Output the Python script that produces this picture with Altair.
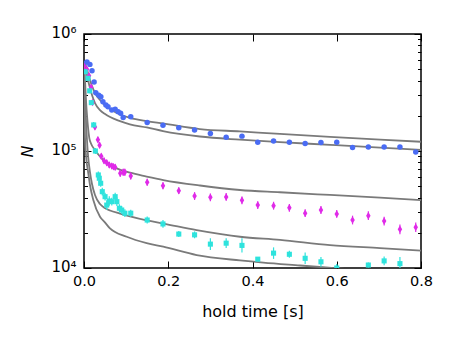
import altair as alt
import pandas as pd

# ---------------- data ----------------
x_ticks = [0.0, 0.2, 0.4, 0.6, 0.8]
y_major = [1e4, 1e5, 1e6]
y_minor = [2e4, 3e4, 4e4, 5e4, 6e4, 7e4, 8e4, 9e4,
           2e5, 3e5, 4e5, 5e5, 6e5, 7e5, 8e5, 9e5]

blue_t = [0.0, 0.007, 0.014, 0.019, 0.024, 0.028, 0.035, 0.04, 0.045, 0.052,
          0.057, 0.066, 0.074, 0.081, 0.087, 0.093, 0.111,
          0.15, 0.1875, 0.225, 0.2625, 0.3, 0.3375, 0.375, 0.4125, 0.45,
          0.4875, 0.525, 0.5625, 0.6, 0.6375, 0.675, 0.7125, 0.75, 0.7875]
blue_n = [5.6e5, 5.76e5, 5.5e5, 4.85e5, 3.89e5, 3.15e5, 3.0e5, 2.91e5, 2.64e5, 2.47e5,
          2.39e5, 2.24e5, 2.28e5, 2.17e5, 2.10e5, 1.93e5, 1.96e5,
          1.75e5, 1.66e5, 1.58e5, 1.51e5, 1.41e5, 1.31e5, 1.34e5, 1.19e5, 1.22e5,
          1.19e5, 1.16e5, 1.18e5, 1.19e5, 1.07e5, 1.08e5, 1.08e5, 1.08e5, 9.8e4]

mag_t = [0.0, 0.007, 0.012, 0.017, 0.02, 0.026, 0.033, 0.037, 0.041, 0.0475,
         0.054, 0.06, 0.066, 0.07, 0.074, 0.086, 0.093, 0.097, 0.111,
         0.15, 0.1875, 0.225, 0.2625, 0.3, 0.3375, 0.375, 0.4125, 0.45,
         0.4875, 0.525, 0.5625, 0.6, 0.6375, 0.675, 0.7125, 0.75, 0.7875]
mag_n = [5.3e5, 5.0e5, 4.4e5, 3.5e5, 2.6e5, 1.6e5, 1.25e5, 1.12e5, 9.0e4, 8.26e4,
         7.94e4, 7.59e4, 7.44e4, 7.35e4, 7.26e4, 6.45e4, 6.58e4, 6.58e4, 6.11e4,
         5.40e4, 5.05e4, 4.58e4, 4.12e4, 4.02e4, 4.05e4, 3.79e4, 3.45e4, 3.41e4,
         3.27e4, 2.94e4, 3.13e4, 2.90e4, 2.57e4, 2.80e4, 2.52e4, 2.14e4, 2.23e4]
mag_err = [0.04, 0.04, 0.04, 0.05, 0.05, 0.05, 0.06, 0.06, 0.06, 0.06,
           0.06, 0.06, 0.06, 0.06, 0.06, 0.07, 0.07, 0.07, 0.07,
           0.07, 0.07, 0.07, 0.08, 0.08, 0.08, 0.08, 0.08, 0.08,
           0.08, 0.08, 0.08, 0.08, 0.09, 0.09, 0.09, 0.10, 0.10]

cyan_t = [0.003, 0.0095, 0.0135, 0.0173, 0.023, 0.027, 0.034, 0.0363, 0.0396, 0.0434,
          0.05, 0.054, 0.06, 0.066, 0.074, 0.078, 0.084, 0.0895, 0.097, 0.111,
          0.15, 0.1875, 0.225, 0.2625, 0.3, 0.3375, 0.375, 0.4125, 0.45,
          0.4875, 0.525, 0.5625, 0.6, 0.675, 0.7125, 0.75]
cyan_n = [4.76e5, 4.18e5, 3.27e5, 2.59e5, 1.67e5, 1.0e5, 6.24e4, 5.85e4, 5.30e4, 4.49e4,
          4.07e4, 3.45e4, 3.74e4, 3.69e4, 4.07e4, 3.69e4, 3.24e4, 3.13e4, 2.94e4, 2.94e4,
          2.57e4, 2.38e4, 1.95e4, 1.92e4, 1.60e4, 1.63e4, 1.56e4, 1.19e4, 1.34e4,
          1.31e4, 1.21e4, 1.13e4, 1.0e4, 1.06e4, 1.15e4, 1.09e4]
cyan_err = [0.04, 0.04, 0.05, 0.05, 0.06, 0.06, 0.07, 0.07, 0.07, 0.08,
            0.08, 0.10, 0.10, 0.08, 0.08, 0.09, 0.08, 0.08, 0.08, 0.07,
            0.07, 0.08, 0.06, 0.07, 0.12, 0.10, 0.15, 0.04, 0.12,
            0.07, 0.12, 0.10, 0.08, 0.05, 0.09, 0.14]

# model curves (gray)
curve_A_t = [0, .0047, .0095, .0142, .019, .0261, .038, .05, .062, .0855, .109, .149,
             .1875, .275, .37, .465, .584, .703, .80]
curve_A_n = [5.8e5, 5.33e5, 4.64e5, 4.04e5, 3.59e5, 3.13e5, 2.73e5, 2.45e5, 2.29e5, 2.05e5,
             1.92e5, 1.80e5, 1.72e5, 1.54e5, 1.47e5, 1.40e5, 1.32e5, 1.25e5, 1.20e5]
curve_B_t = curve_A_t
curve_B_n = [5.8e5, 4.92e5, 4.04e5, 3.46e5, 3.01e5, 2.57e5, 2.24e5, 2.07e5, 1.95e5, 1.80e5,
             1.69e5, 1.59e5, 1.48e5, 1.33e5, 1.25e5, 1.19e5, 1.13e5, 1.07e5, 1.02e5]
curve_C_t = [0, .0024, .0047, .0071, .0095, .0126, .0166, .0261, .038, .0458, .0617, .0776,
             .1092, .1488, .1883, .2754, .3703, .4653, .584, .7027, .80]
curve_C_n = [5.8e5, 4.04e5, 2.73e5, 2.03e5, 1.60e5, 1.29e5, 1.16e5, 1.02e5, 8.97e4, 8.38e4,
             7.67e4, 7.11e4, 6.52e4, 6.05e4, 5.65e4, 5.07e4, 4.64e4, 4.44e4, 4.21e4, 3.99e4, 3.81e4]
curve_D_t = [0, .0024, .0047, .0064, .0095, .0142, .019, .0261, .038, .0491, .0617, .0855,
             .1092, .1488, .1883, .2675, .3703, .4653, .584, .7027, .80]
curve_D_n = [5.8e5, 3.32e5, 1.84e5, 1.37e5, 9.24e4, 6.61e4, 5.22e4, 4.21e4, 3.52e4, 3.26e4,
             3.10e4, 2.92e4, 2.76e4, 2.55e4, 2.40e4, 2.11e4, 1.85e4, 1.74e4, 1.57e4, 1.48e4, 1.41e4]
curve_E_t = [0, .0008, .0016, .0024, .0047, .0102, .0142, .0221, .038, .0491, .0617, .1014,
             .1488, .1883, .2675, .3703, .4256, .5128, .6006, .7027, .80]
curve_E_n = [5.8e5, 3.2e5, 1.9e5, 1.3e5, 9.24e4, 6.45e4, 5.12e4, 3.81e4, 2.74e4, 2.47e4,
             2.18e4, 1.85e4, 1.63e4, 1.52e4, 1.29e4, 1.16e4, 1.11e4, 1.05e4, 9.94e3, 9.33e3, 8.89e3]

# ---------------- tables ----------------
curves = pd.concat([
    pd.DataFrame({"t": t, "N": n, "curve": name})
    for name, t, n in [("A", curve_A_t, curve_A_n), ("B", curve_B_t, curve_B_n),
                       ("C", curve_C_t, curve_C_n), ("D", curve_D_t, curve_D_n),
                       ("E", curve_E_t, curve_E_n)]
])
blue = pd.DataFrame({"t": blue_t, "N": blue_n})
mag = pd.DataFrame({"t": mag_t, "N": mag_n, "e": mag_err})
mag["lo"] = mag["N"] / (1 + mag["e"])
mag["hi"] = mag["N"] * (1 + mag["e"])
cyan = pd.DataFrame({"t": cyan_t, "N": cyan_n, "e": cyan_err})
cyan["lo"] = cyan["N"] / (1 + cyan["e"])
cyan["hi"] = cyan["N"] * (1 + cyan["e"])

# ---------------- styling ----------------
W, H = 337, 234
FONT = "DejaVu Sans"
BLUE, MAG, CYAN, GRAY = "#4a6cf4", "#e02ae8", "#2ee3dd", "#7a7a7a"

xs = alt.Scale(domain=[0, 0.8], nice=False, zero=False, padding=0)
ys = alt.Scale(type="log", domain=[1e4, 1e6], nice=False, padding=0)

x_main = alt.Axis(orient="bottom", values=x_ticks, format=".1f", ticks=False, domain=False,
                  grid=False, labelFontSize=14.5, labelPadding=6, labelFlush=False,
                  title="hold time [s]", titleFontSize=16, titleFontWeight="normal",
                  titleY=48, titleBaseline="alphabetic")
x_in_bottom = alt.Axis(orient="top", offset=-H, values=x_ticks, labels=False, domain=False,
                       grid=False, tickSize=7, title=None)
x_in_top = alt.Axis(orient="bottom", offset=-H, values=x_ticks, labels=False, domain=False,
                    grid=False, tickSize=7, title=None)

y_main = alt.Axis(orient="left", values=y_major, ticks=False, domain=False, grid=False,
                  labelExpr="datum.value > 500000 ? '10⁶' : datum.value > 50000 ? '10⁵' : '10⁴'",
                  labelFontSize=15, labelPadding=8, labelFlush=False, labelOffset=-2,
                  title="N", titleFontStyle="italic",
                  titleFontSize=16, titleFontWeight="normal", titleX=-57, titleY=H / 2,
                  titleBaseline="middle")
y_in_left = alt.Axis(orient="right", offset=-W, values=y_major, labels=False, domain=False,
                     grid=False, tickSize=7, title=None)
y_in_right = alt.Axis(orient="left", offset=-W, values=y_major, labels=False, domain=False,
                      grid=False, tickSize=7, title=None)
y_in_left_min = alt.Axis(orient="right", offset=-W, values=y_minor, labels=False, domain=False,
                         grid=False, tickSize=3.5, title=None)
y_in_right_min = alt.Axis(orient="left", offset=-W, values=y_minor, labels=False, domain=False,
                          grid=False, tickSize=3.5, title=None)

lines = alt.Chart(curves).mark_line(color=GRAY, strokeWidth=1.8, clip=True,
                                    interpolate="monotone").encode(
    x=alt.X("t:Q", scale=xs, axis=x_main),
    y=alt.Y("N:Q", scale=ys, axis=y_main),
    detail="curve:N",
    order="t:Q",
)

blue_pts = alt.Chart(blue).mark_point(filled=True, opacity=1, color=BLUE, shape="circle",
                                      size=30, clip=True).encode(
    x=alt.X("t:Q", scale=xs, axis=x_in_bottom),
    y=alt.Y("N:Q", scale=ys, axis=y_in_left),
)

mag_err_r = alt.Chart(mag).mark_rule(color=MAG, strokeWidth=1.2, clip=True).encode(
    x=alt.X("t:Q", scale=xs, axis=x_in_top),
    y=alt.Y("lo:Q", scale=ys, axis=y_in_right),
    y2="hi:Q",
)
mag_pts = alt.Chart(mag).mark_point(filled=True, opacity=1, color=MAG,
                                    shape="M0,-1L0.6,0L0,1L-0.6,0Z", size=56,
                                    clip=True).encode(
    x=alt.X("t:Q", scale=xs, axis=None),
    y=alt.Y("N:Q", scale=ys, axis=y_in_left_min),
)

cyan_err_r = alt.Chart(cyan).mark_rule(color=CYAN, strokeWidth=1.2, clip=True).encode(
    x=alt.X("t:Q", scale=xs, axis=None),
    y=alt.Y("lo:Q", scale=ys, axis=y_in_right_min),
    y2="hi:Q",
)
cyan_pts = alt.Chart(cyan).mark_point(filled=True, opacity=1, color=CYAN, shape="square",
                                      size=26, clip=True).encode(
    x=alt.X("t:Q", scale=xs, axis=None),
    y=alt.Y("N:Q", scale=ys, axis=None),
)

chart = alt.layer(
    lines, mag_err_r, cyan_err_r, blue_pts, mag_pts, cyan_pts
).resolve_axis(x="independent", y="independent").properties(
    width=W, height=H,
    padding={"left": 76, "top": 26, "right": 20, "bottom": 60},
    autosize=alt.AutoSizeParams(type="none"),
).configure_view(
    stroke="black", strokeWidth=1.5
).configure_axis(
    tickColor="black", tickWidth=1, labelColor="black", titleColor="black",
    labelFont=FONT, titleFont=FONT,
)

chart.save("out.html", embed_options={"renderer": "svg", "actions": False})
